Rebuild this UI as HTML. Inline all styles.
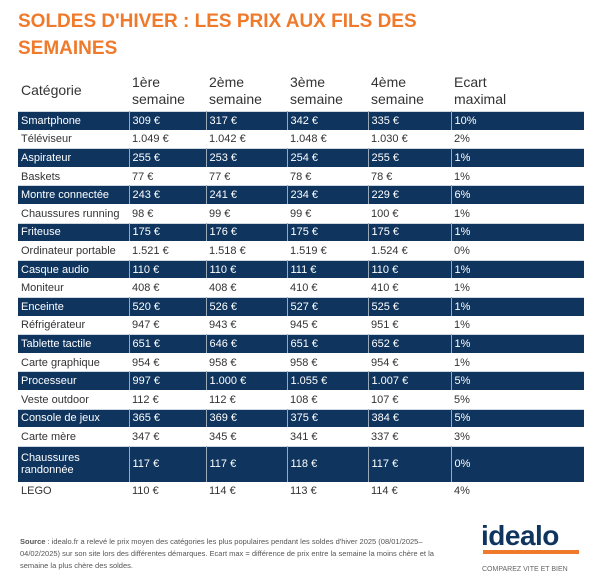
<!DOCTYPE html>
<html><head><meta charset="utf-8"><style>
body{margin:0;width:600px;height:581px;background:#fff;font-family:"Liberation Sans",sans-serif;overflow:hidden;position:relative}
h1{position:absolute;left:18px;top:8px;margin:0;font-size:19px;line-height:27px;color:#f07a2b;font-weight:bold;letter-spacing:0}
table{position:absolute;left:18px;top:70px;width:566px;border-collapse:collapse;font-size:11px;color:#333;table-layout:fixed}
th{font-weight:normal;text-align:left;font-size:14px;line-height:17px;color:#333;height:41px;padding:0 0 0 3px;vertical-align:middle}
td{height:18.6px;padding:1px 0 0 3px;line-height:12px;box-sizing:border-box}
tr.d td{background:#0f355f;color:#fff;border-left:1px solid #9ab;box-shadow:inset 0 1px 0 #cfd8e0}
tr.d td:first-child{border-left:none}
.src{position:absolute;left:20px;top:536px;font-size:7.5px;line-height:12px;color:#555;width:420px}
.logo{position:absolute;left:481px;top:520px;font-size:28px;font-weight:bold;color:#0f355f;letter-spacing:-0.5px}
.bar{position:absolute;left:483px;top:550px;width:96px;height:4px;background:#f07a2b}
.tag{position:absolute;left:482px;top:566px;font-size:7px;color:#666}
</style></head><body>
<h1>SOLDES D'HIVER : LES PRIX AUX FILS DES<br>SEMAINES</h1>
<table>
<colgroup><col style="width:111px"><col style="width:77px"><col style="width:81px"><col style="width:81px"><col style="width:83px"><col></colgroup>
<tr><th>Catégorie</th><th>1ère<br>semaine</th><th>2ème<br>semaine</th><th>3ème<br>semaine</th><th>4ème<br>semaine</th><th>Ecart<br>maximal</th></tr>
<tr class="d"><td>Smartphone</td><td>309 €</td><td>317 €</td><td>342 €</td><td>335 €</td><td>10%</td></tr>
<tr><td>Téléviseur</td><td>1.049 €</td><td>1.042 €</td><td>1.048 €</td><td>1.030 €</td><td>2%</td></tr>
<tr class="d"><td>Aspirateur</td><td>255 €</td><td>253 €</td><td>254 €</td><td>255 €</td><td>1%</td></tr>
<tr><td>Baskets</td><td>77 €</td><td>77 €</td><td>78 €</td><td>78 €</td><td>1%</td></tr>
<tr class="d"><td>Montre connectée</td><td>243 €</td><td>241 €</td><td>234 €</td><td>229 €</td><td>6%</td></tr>
<tr><td>Chaussures running</td><td>98 €</td><td>99 €</td><td>99 €</td><td>100 €</td><td>1%</td></tr>
<tr class="d"><td>Friteuse</td><td>175 €</td><td>176 €</td><td>175 €</td><td>175 €</td><td>1%</td></tr>
<tr><td>Ordinateur portable</td><td>1.521 €</td><td>1.518 €</td><td>1.519 €</td><td>1.524 €</td><td>0%</td></tr>
<tr class="d"><td>Casque audio</td><td>110 €</td><td>110 €</td><td>111 €</td><td>110 €</td><td>1%</td></tr>
<tr><td>Moniteur</td><td>408 €</td><td>408 €</td><td>410 €</td><td>410 €</td><td>1%</td></tr>
<tr class="d"><td>Enceinte</td><td>520 €</td><td>526 €</td><td>527 €</td><td>525 €</td><td>1%</td></tr>
<tr><td>Réfrigérateur</td><td>947 €</td><td>943 €</td><td>945 €</td><td>951 €</td><td>1%</td></tr>
<tr class="d"><td>Tablette tactile</td><td>651 €</td><td>646 €</td><td>651 €</td><td>652 €</td><td>1%</td></tr>
<tr><td>Carte graphique</td><td>954 €</td><td>958 €</td><td>958 €</td><td>954 €</td><td>1%</td></tr>
<tr class="d"><td>Processeur</td><td>997 €</td><td>1.000 €</td><td>1.055 €</td><td>1.007 €</td><td>5%</td></tr>
<tr><td>Veste outdoor</td><td>112 €</td><td>112 €</td><td>108 €</td><td>107 €</td><td>5%</td></tr>
<tr class="d"><td>Console de jeux</td><td>365 €</td><td>369 €</td><td>375 €</td><td>384 €</td><td>5%</td></tr>
<tr><td>Carte mère</td><td>347 €</td><td>345 €</td><td>341 €</td><td>337 €</td><td>3%</td></tr>
<tr class="d"><td style="height:36px">Chaussures<br>randonnée</td><td>117 €</td><td>117 €</td><td>118 €</td><td>117 €</td><td>0%</td></tr>
<tr><td>LEGO</td><td>110 €</td><td>114 €</td><td>113 €</td><td>114 €</td><td>4%</td></tr>
</table>
<div class="src"><b>Source</b> : idealo.fr a relevé le prix moyen des catégories les plus populaires pendant les soldes d'hiver 2025 (08/01/2025–04/02/2025) sur son site lors des différentes démarques. Ecart max = différence de prix entre la semaine la moins chère et la semaine la plus chère des soldes.</div>
<div class="logo">idealo</div><div class="bar"></div><div class="tag">COMPAREZ VITE ET BIEN</div>
</body></html>
